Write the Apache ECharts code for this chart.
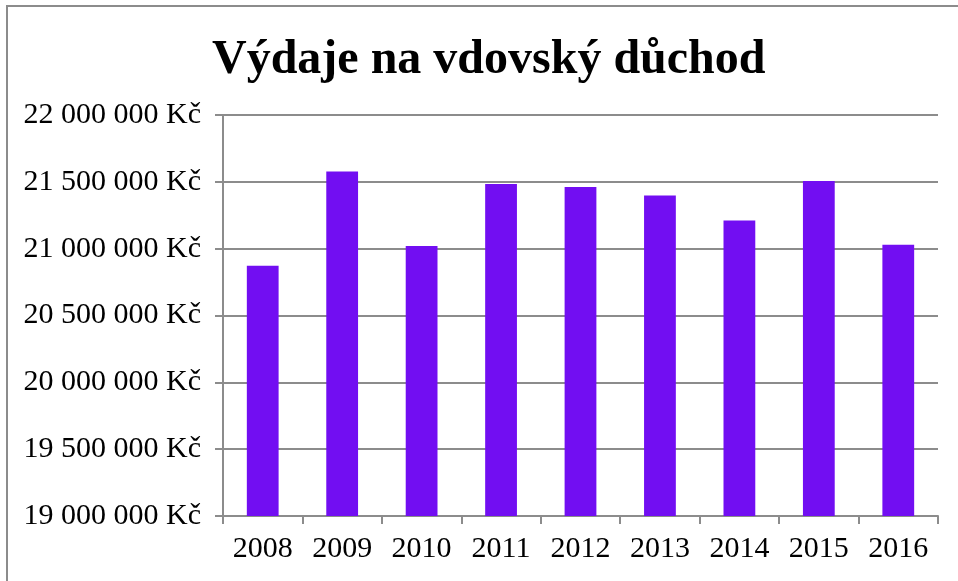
<!DOCTYPE html>
<html lang="cs">
<head>
<meta charset="UTF-8">
<title>Výdaje na vdovský důchod</title>
<style>
    html, body { margin: 0; padding: 0; background: #fff; }
    #echart { width: 958px; height: 581px; }
</style>
</head>
<body>

<div id="echart"></div>

<script src="https://cdn.jsdelivr.net/npm/echarts@6/dist/echarts.min.js"></script>
<script>
    const years = ["2008", "2009", "2010", "2011", "2012", "2013", "2014", "2015", "2016"];
    const spending = [20873000, 21577000, 21020000, 21483000, 21462000, 21397000, 21210000, 21507000, 21030000];

    const serif = "'Liberation Serif', 'Times New Roman', serif";

    function formatKc(v) {
        return String(v).replace(/\B(?=(\d{3})+(?!\d))/g, " ") + " Kč";
    }

    const myChart = echarts.init(document.getElementById("echart"));

    const option = {
        animation: false,
        backgroundColor: "#fff",
        title: {
            text: "Výdaje na vdovský důchod",
            left: 207,
            top: 32,
            textStyle: { fontFamily: serif, fontSize: 48, fontWeight: "bold", color: "#000" }
        },
        graphic: [{
            type: "rect",
            shape: { x: 7, y: 6, width: 1000, height: 1000 },
            style: { fill: "none", stroke: "#8c8c8c", lineWidth: 2 },
            silent: true
        }],
        grid: { left: 223, right: 20, top: 115, bottom: 65 },
        xAxis: {
            type: "category",
            data: years,
            axisLine: { lineStyle: { color: "#8c8c8c", width: 2 } },
            axisTick: { show: true, length: 8, lineStyle: { color: "#8c8c8c", width: 2 } },
            axisLabel: { fontFamily: serif, fontSize: 30, color: "#000", margin: 18 }
        },
        yAxis: {
            type: "value",
            min: 19000000,
            max: 22000000,
            interval: 500000,
            axisLine: { show: true, lineStyle: { color: "#8c8c8c", width: 2 } },
            axisTick: { show: true, length: 8, lineStyle: { color: "#8c8c8c", width: 2 } },
            splitLine: { lineStyle: { color: "#8c8c8c", width: 2 } },
            axisLabel: { fontFamily: serif, fontSize: 30, color: "#000", margin: 22, formatter: formatKc }
        },
        series: [{
            type: "bar",
            data: spending,
            barWidth: "40%",
            itemStyle: { color: "#720ef2" }
        }]
    };

    myChart.setOption(option);
</script>

</body>
</html>
